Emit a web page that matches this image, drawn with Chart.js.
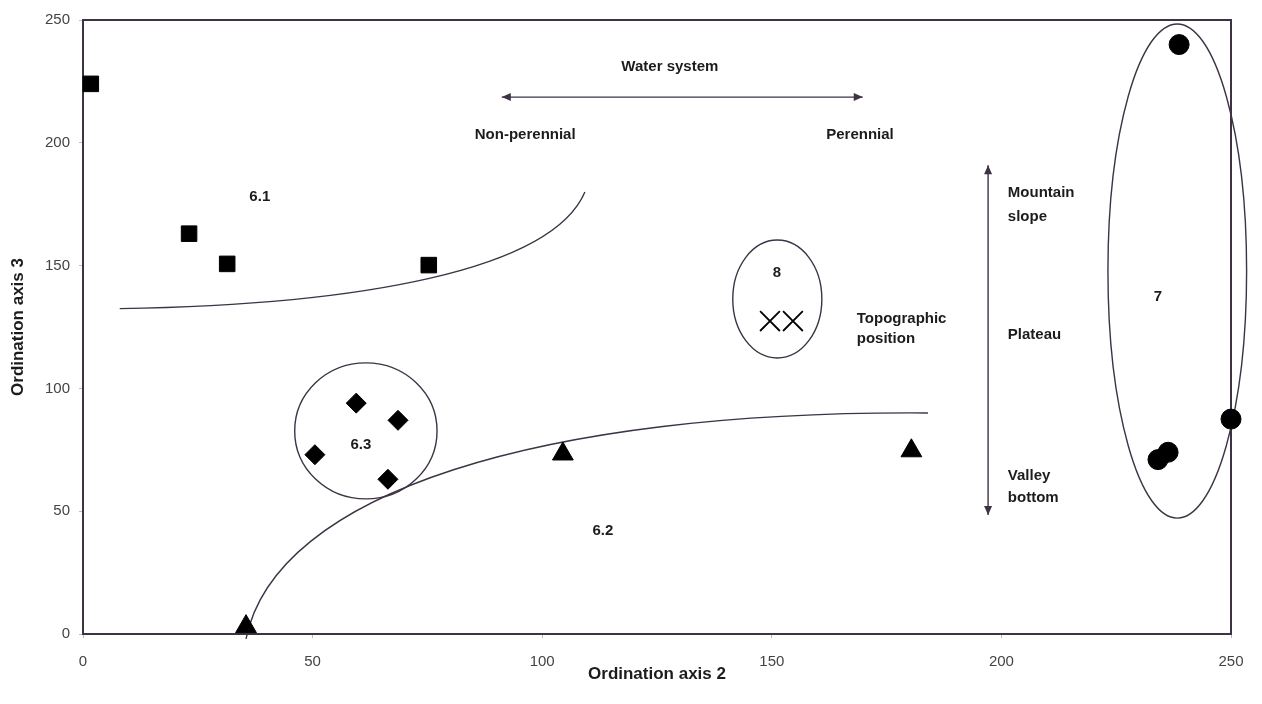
<!DOCTYPE html>
<html>
<head>
<meta charset="utf-8">
<title>Ordination diagram</title>
<script src="https://cdn.jsdelivr.net/npm/chart.js@4.4.1/dist/chart.umd.min.js"></script>
<style>
html,body{margin:0;padding:0;background:#fff;}
#wrap{width:1262px;height:704px;}
</style>
</head>
<body>
<div id="wrap"><canvas id="ordinationChart"></canvas></div>
<script>

/* ===============================
        Site scores
================================ */

const axisTicks = [0, 50, 100, 150, 200, 250];

const group61X = [1.7, 23.1, 31.4, 75.3];
const group61Y = [224, 163, 150.7, 150.2];

const group62X = [35.5, 104.5, 180.4];
const group62Y = [3, 73.3, 74.6];

const group63X = [59.5, 68.6, 50.5, 66.4];
const group63Y = [94, 87, 73, 63];

const group7X = [238.7, 250, 234.1, 236.3];
const group7Y = [240, 87.5, 71, 74];

const group8X = [149.6, 154.6];
const group8Y = [127.4, 127.4];


/* ===============================
        Sketch overlay (axis units)
================================ */

// cubic curves: start, ctrl1, ctrl2, end
const boundaryCurves = [
  [[8, 132.5], [60, 134], [102, 148], [109.3, 180]],
  [[35.5, -2], [42, 58], [100, 91], [184, 90]]
];

// ellipses: centre x, centre y, radius x, radius y
const groupEllipses = [
  [61.6, 82.7, 15.5, 27.7],
  [151.2, 136.4, 9.7, 24],
  [238.3, 147.8, 15.1, 100.6]
];

const sketchLabels = [
  ["Water system", 127.8, 230.8, "center"],
  ["Non-perennial", 96.3, 203.3, "center"],
  ["Perennial", 169.2, 203.3, "center"],
  ["Mountain", 201.4, 179.6, "left"],
  ["slope", 201.4, 169.8, "left"],
  ["Plateau", 201.4, 121.8, "left"],
  ["Valley", 201.4, 64.3, "left"],
  ["bottom", 201.4, 55.4, "left"],
  ["Topographic", 168.5, 128.3, "left"],
  ["position", 168.5, 120.2, "left"],
  ["6.1", 38.5, 178, "center"],
  ["6.2", 113.2, 42, "center"],
  ["6.3", 60.5, 77, "center"],
  ["7", 234.1, 137.2, "center"],
  ["8", 151.1, 147, "center"]
];

const waterArrow = [91.2, 169.8, 218.6];     // x from, x to, y
const topoArrow = [197.1, 190.9, 48.5];      // x, y from, y to


const inkColor = "#3d3345";
const textColor = "#1c1c1c";


function toPoints(xs, ys){
  return xs.map((v, i) => ({x: v, y: ys[i]}));
}


function arrowHead(ctx, x, y, dx, dy){
  const len = 9, half = 4;
  ctx.beginPath();
  ctx.moveTo(x, y);
  ctx.lineTo(x - dx*len - dy*half, y - dy*len + dx*half);
  ctx.lineTo(x - dx*len + dy*half, y - dy*len - dx*half);
  ctx.closePath();
  ctx.fill();
}


const sketchPlugin = {

  id: "sketch",

  beforeDatasetsDraw(chart){
    const {ctx, chartArea: a} = chart;
    const sx = chart.scales.x, sy = chart.scales.y;
    const px = v => sx.getPixelForValue(v);
    const py = v => sy.getPixelForValue(v);

    ctx.save();

    // frame top + right
    ctx.strokeStyle = inkColor;
    ctx.lineWidth = 2;
    ctx.beginPath();
    ctx.moveTo(a.left, a.top);
    ctx.lineTo(a.right, a.top);
    ctx.lineTo(a.right, a.bottom);
    ctx.stroke();

    ctx.lineWidth = 1.4;

    boundaryCurves.forEach(c => {
      ctx.beginPath();
      ctx.moveTo(px(c[0][0]), py(c[0][1]));
      ctx.bezierCurveTo(
        px(c[1][0]), py(c[1][1]),
        px(c[2][0]), py(c[2][1]),
        px(c[3][0]), py(c[3][1])
      );
      ctx.stroke();
    });

    groupEllipses.forEach(e => {
      const cx = px(e[0]), cy = py(e[1]);
      const rx = Math.abs(px(e[0] + e[2]) - cx);
      const ry = Math.abs(py(e[1] + e[3]) - cy);
      ctx.beginPath();
      ctx.ellipse(cx, cy, rx, ry, 0, 0, Math.PI*2);
      ctx.stroke();
    });

    // water system arrow
    ctx.fillStyle = inkColor;
    const wx1 = px(waterArrow[0]), wx2 = px(waterArrow[1]), wy = py(waterArrow[2]);
    ctx.beginPath();
    ctx.moveTo(wx1, wy);
    ctx.lineTo(wx2, wy);
    ctx.stroke();
    arrowHead(ctx, wx1, wy, -1, 0);
    arrowHead(ctx, wx2, wy, 1, 0);

    // topographic arrow
    const tx = px(topoArrow[0]), ty1 = py(topoArrow[1]), ty2 = py(topoArrow[2]);
    ctx.beginPath();
    ctx.moveTo(tx, ty1);
    ctx.lineTo(tx, ty2);
    ctx.stroke();
    arrowHead(ctx, tx, ty1, 0, -1);
    arrowHead(ctx, tx, ty2, 0, 1);

    ctx.restore();
  },

  afterDatasetsDraw(chart){
    const {ctx} = chart;
    const sx = chart.scales.x, sy = chart.scales.y;

    ctx.save();
    ctx.fillStyle = textColor;
    ctx.font = "bold 15px 'Liberation Sans', Arial, sans-serif";
    ctx.textBaseline = "middle";
    sketchLabels.forEach(l => {
      ctx.textAlign = l[3];
      ctx.fillText(l[0], sx.getPixelForValue(l[1]), sy.getPixelForValue(l[2]));
    });
    ctx.restore();
  }

};



/* ===============================
        Ordination Chart
================================ */

document.addEventListener("DOMContentLoaded", () => {

  const canvas = document.getElementById("ordinationChart");

  const marker = (label, xs, ys, style, radius) => ({
    label: label,
    data: toPoints(xs, ys),
    pointStyle: style,
    pointRadius: radius,
    pointHoverRadius: radius,
    backgroundColor: "#000",
    borderColor: "#000",
    borderWidth: style === "crossRot" ? 1.8 : 1,
    clip: false
  });

  new Chart(canvas, {

    type: "scatter",

    data: {
      datasets: [
        marker("6.1", group61X, group61Y, "rect", 11),
        marker("6.2", group62X, group62Y, "triangle", 12),
        marker("6.3", group63X, group63Y, "rectRot", 10),
        marker("7", group7X, group7Y, "circle", 10),
        marker("8", group8X, group8Y, "crossRot", 14)
      ]
    },

    options: {
      responsive: true,
      maintainAspectRatio: false,
      animation: false,
      layout: {
        padding: {top: 20, right: 31, bottom: 0, left: 0}
      },
      plugins: {
        legend: {display: false},
        tooltip: {enabled: false}
      },
      scales: {
        x: {
          type: "linear",
          min: 0,
          max: 250,
          afterBuildTicks: s => { s.ticks = axisTicks.map(v => ({value: v})); },
          afterFit: s => { s.height = 70; },
          grid: {drawOnChartArea: false, drawTicks: true, tickLength: 4, color: "#bbb"},
          border: {display: true, color: inkColor, width: 2},
          ticks: {
            color: "#444",
            padding: 15,
            font: {family: "'Liberation Sans', Arial, sans-serif", size: 15}
          },
          title: {
            display: true,
            text: "Ordination axis 2",
            color: textColor,
            padding: {top: 0, bottom: 19},
            font: {family: "'Liberation Sans', Arial, sans-serif", size: 17, weight: "bold"}
          }
        },
        y: {
          type: "linear",
          min: 0,
          max: 250,
          afterBuildTicks: s => { s.ticks = axisTicks.map(v => ({value: v})); },
          afterFit: s => { s.width = 83; },
          grid: {drawOnChartArea: false, drawTicks: true, tickLength: 4, color: "#bbb"},
          border: {display: true, color: inkColor, width: 2},
          ticks: {
            color: "#444",
            padding: 9,
            font: {family: "'Liberation Sans', Arial, sans-serif", size: 15}
          },
          title: {
            display: true,
            text: "Ordination axis 3",
            color: textColor,
            padding: {top: 8, bottom: 0},
            font: {family: "'Liberation Sans', Arial, sans-serif", size: 17, weight: "bold"}
          }
        }
      }
    },

    plugins: [sketchPlugin]

  });

});

</script>
</body>
</html>
